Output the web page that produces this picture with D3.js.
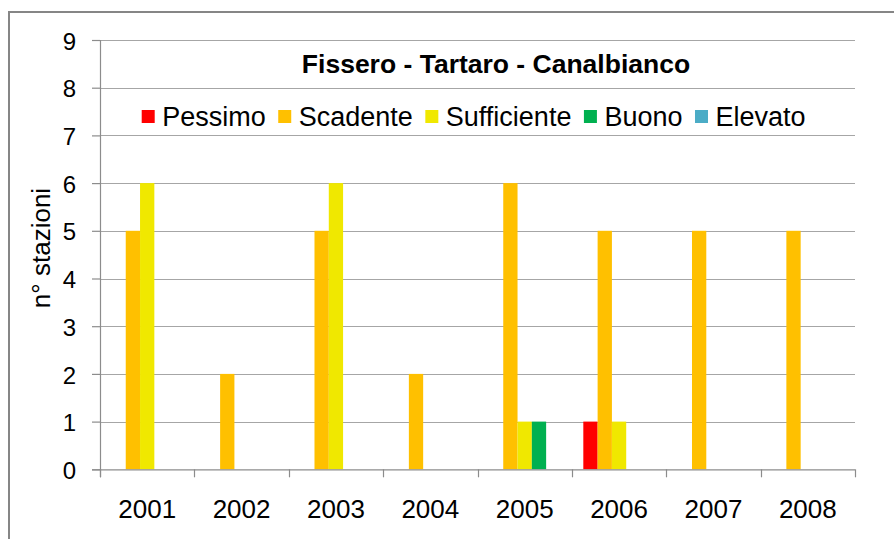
<!DOCTYPE html>
<html>
<head>
<meta charset="utf-8">
<script src="https://cdn.jsdelivr.net/npm/d3@7/dist/d3.min.js"></script>
<style>
  html, body { margin: 0; padding: 0; background: #fff; }
  svg { display: block; }
  text { font-family: "Liberation Sans", Arial, sans-serif; fill: #000; }
</style>
</head>
<body>
<svg id="chart" width="894" height="539"></svg>
<script>
// ---- data ----
const years = ["2001", "2002", "2003", "2004", "2005", "2006", "2007", "2008"];
const seriesNames = ["Pessimo", "Scadente", "Sufficiente", "Buono", "Elevato"];
const pessimo     = [0, 0, 0, 0, 0, 1, 0, 0];
const scadente    = [5, 2, 5, 2, 6, 5, 5, 5];
const sufficiente = [6, 0, 6, 0, 1, 1, 0, 0];
const buono       = [0, 0, 0, 0, 1, 0, 0, 0];
const elevato     = [0, 0, 0, 0, 0, 0, 0, 0];
const yTicks = [0, 1, 2, 3, 4, 5, 6, 7, 8, 9];
const chartTitle = "Fissero - Tartaro - Canalbianco";
const yLabel = "n° stazioni";

const values = [pessimo, scadente, sufficiente, buono, elevato];
const colors = ["#FF0000", "#FFC000", "#F0E800", "#00B050", "#4BACC6"];

(function () {
const svg = d3.select("#chart");
const pL = 100, pR = 855, pT = 40, pB = 469.3;

// frame
svg.append("rect")
  .attr("x", 9).attr("y", 12).attr("width", 900).attr("height", 540)
  .attr("fill", "#fff").attr("stroke", "#868686").attr("stroke-width", 2);

const y = d3.scaleLinear().domain([0, 9]).range([pB, pT]);
const x = d3.scaleBand().domain(years).range([pL, pR])
  .paddingInner(0.2424).paddingOuter(0.1212);
const xs = d3.scaleBand().domain(seriesNames).range([0, x.bandwidth()]);

// gridlines
svg.append("g").selectAll("line").data(yTicks.filter(d => d > 0)).join("line")
  .attr("x1", pL).attr("x2", pR)
  .attr("y1", d => Math.round(y(d)) + 0.5).attr("y2", d => Math.round(y(d)) + 0.5)
  .attr("stroke", "#A6A6A6").attr("stroke-width", 1.2);

// y axis
const yAxis = svg.append("g").attr("transform", `translate(${pL},0)`)
  .call(d3.axisLeft(y).tickValues(yTicks).tickSize(8).tickPadding(16).tickFormat(d3.format("d")));
yAxis.select(".domain").attr("stroke", "#8C8C8C").attr("stroke-width", 1.2)
  .attr("d", `M0.5,${pT}V${pB + 8}`);
yAxis.selectAll(".tick line").attr("stroke", "#8C8C8C").attr("stroke-width", 1.2);
yAxis.selectAll(".tick text").attr("font-size", 24).attr("dy", "0.38em")
  .style("font-family", '"Liberation Sans", Arial, sans-serif').attr("fill", "#000");

// bars
const groups = svg.append("g").selectAll("g").data(years).join("g")
  .attr("transform", d => `translate(${x(d)},0)`);
groups.selectAll("rect")
  .data((yr, i) => seriesNames.map((s, j) => ({ s, v: values[j][i], c: colors[j] })))
  .join("rect")
  .attr("x", d => xs(d.s)).attr("width", xs.bandwidth())
  .attr("y", d => y(d.v)).attr("height", d => y(0) - y(d.v))
  .attr("fill", d => d.c);

// x axis
const xAxis = svg.append("g").attr("transform", `translate(0,${pB})`)
  .call(d3.axisBottom(x).tickSize(0).tickPadding(0));
xAxis.select(".domain").remove();
xAxis.append("line").attr("x1", pL - 8).attr("x2", pR).attr("y1", 0.5).attr("y2", 0.5)
  .attr("stroke", "#8C8C8C").attr("stroke-width", 1.2);
const bounds = years.map(d => x(d) - x.step() * x.paddingInner() / 2).concat([pR]);
xAxis.selectAll(".bt").data(bounds).join("line")
  .attr("x1", d => Math.round(d) + 0.5).attr("x2", d => Math.round(d) + 0.5)
  .attr("y1", 0).attr("y2", 8).attr("stroke", "#8C8C8C").attr("stroke-width", 1.2);
xAxis.selectAll(".tick text").attr("font-size", 26).attr("y", 49).attr("dy", 0)
  .style("font-family", '"Liberation Sans", Arial, sans-serif').attr("fill", "#000");

// y label
svg.append("text")
  .attr("transform", "translate(50,248) rotate(-90)")
  .attr("text-anchor", "middle").attr("font-size", 26).text(yLabel);

// title
svg.append("text").attr("x", 496).attr("y", 73).attr("text-anchor", "middle")
  .attr("font-size", 26.5).attr("font-weight", "bold").text(chartTitle);

// legend
const leg = svg.append("g");
let lx = 141.7;
seriesNames.forEach((s, i) => {
  leg.append("rect").attr("x", lx).attr("y", 110).attr("width", 13).attr("height", 13)
    .attr("fill", colors[i]);
  const t = leg.append("text").attr("x", lx + 20.5).attr("y", 126).attr("font-size", 27).text(s);
  lx += 20.5 + t.node().getComputedTextLength() + 12.5;
});
})();
</script>
</body>
</html>
